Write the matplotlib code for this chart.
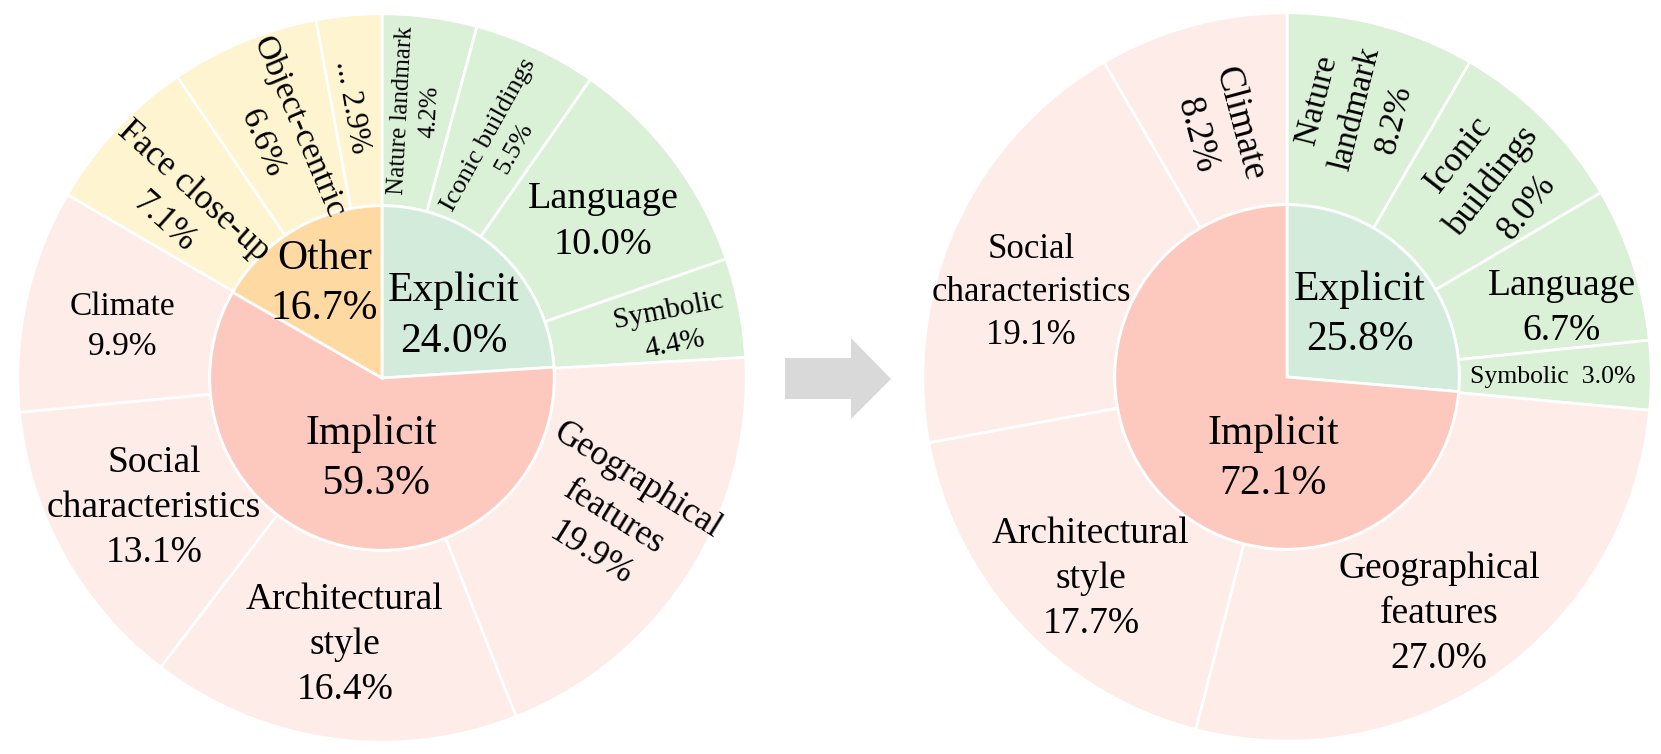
import matplotlib.pyplot as plt
import numpy as np
from matplotlib.patches import Polygon

plt.rcParams['font.family'] = ['Liberation Serif', 'DejaVu Serif']

# ---- data: left chart ----
left_inner_labels = ['Explicit', 'Implicit', 'Other']
left_inner_vals = [24.0, 59.3, 16.7]
left_outer_labels = ['Nature landmark', 'Iconic buildings', 'Language', 'Symbolic',
                     'Geographical\nfeatures', 'Architectural\nstyle',
                     'Social\ncharacteristics', 'Climate',
                     'Face close-up', 'Object-centric', '...']
left_outer_vals = [4.2, 5.5, 10.0, 4.4, 19.9, 16.4, 13.1, 9.9, 7.1, 6.6, 2.9]
left_outer_group = [0, 0, 0, 0, 1, 1, 1, 1, 2, 2, 2]

# ---- data: right chart ----
right_inner_labels = ['Explicit', 'Implicit']
right_inner_vals = [25.8, 72.1]
right_outer_labels = ['Nature\nlandmark', 'Iconic\nbuildings', 'Language', 'Symbolic',
                      'Geographical\nfeatures', 'Architectural\nstyle',
                      'Social\ncharacteristics', 'Climate']
right_outer_vals = [8.2, 8.0, 6.7, 3.0, 27.0, 17.7, 19.1, 8.2]
right_outer_group = [0, 0, 0, 0, 1, 1, 1, 1]

inner_colors = ['#d3ebdb', '#fdc9bf', '#fed9a2']
outer_colors = ['#daf0d7', '#fdece8', '#fef4cf']

R_IN = 0.473

# label styling: (radius, angle offset, rotation, fontsize, value separator)
left_outer_style = [
    (0.738, 0.4, 87, 18, '\n'), (0.728, -1.8, 61, 19, '\n'), (0.743, -1.8, 0, 27.5, '\n'),
    (0.807, -1.3, 11, 21, '\n'), (0.743, 1.6, -32, 25.5, '\n'), (0.74, 0, 0, 27, '\n'),
    (0.72, 0.6, 0, 27, '\n'), (0.727, 1.3, 0, 24, '\n'), (0.729, 2.9, -42, 25, '\n'),
    (0.722, 0.3, -67, 24.5, '\n'), (0.748, 1.1, -80, 22, ' '),
]
left_inner_style = [(0.26, -6, 0, 30, '\n'), (0.223, 5.4, 0, 30, '\n '), (0.304, 1.3, 0, 30, '\n')]

right_outer_style = [
    (0.759, 0.7, 76, 24, '\n'), (0.781, -1.5, 52, 25, '\n'), (0.777, -4.1, 0, 27, '\n'),
    (0.73, -0.3, 0, 18.5, '  '), (0.773, -2.4, 0, 27, '\n'), (0.773, 2.9, 0, 27, '\n'),
    (0.74, 6.4, 0, 25, '\n'), (0.704, 0.5, -75, 26.5, '\n'),
]
right_inner_style = [(0.262, -2, 0, 30, '\n'), (0.227, 37.75, 0, 30, '\n')]

W, H = 1661, 754
fig = plt.figure(figsize=(W / 100, H / 100), dpi=100)

# background axes in pixel coords for the arrow
bg = fig.add_axes([0, 0, 1, 1])
bg.set_xlim(0, W)
bg.set_ylim(H, 0)
bg.axis('off')
bg.add_patch(Polygon([(785, 358), (851, 358), (851, 338), (891, 379), (851, 419),
                      (851, 399), (785, 399)], closed=True, color='#d9d9d9', lw=0))


def mid_angles(vals):
    v = np.array(vals, dtype=float)
    frac = v / v.sum()
    start = 90 - 360 * np.concatenate([[0], np.cumsum(frac)[:-1]])
    return start - 180 * frac


def put_labels(ax, labels, vals, styles):
    mids = mid_angles(vals)
    for lab, val, mid, st in zip(labels, vals, mids, styles):
        r, off, rot, fs, sep = st
        th = np.deg2rad(mid + off)
        ax.text(r * np.cos(th), r * np.sin(th), f'{lab}{sep}{val:.1f}%',
                ha='center', va='center', rotation=rot, rotation_mode='anchor',
                fontsize=fs, linespacing=1.4, multialignment='center')


def sunburst(cx, cy, rad, in_labels, in_vals, out_labels, out_vals, out_group,
             in_style, out_style):
    ax = fig.add_axes([(cx - rad) / W, (H - cy - rad) / H, 2 * rad / W, 2 * rad / H])
    wp = dict(edgecolor='white', linewidth=2)
    ax.pie(out_vals, radius=1, startangle=90, counterclock=False,
           colors=[outer_colors[g] for g in out_group],
           wedgeprops=dict(width=1 - R_IN, **wp))
    ax.pie(in_vals, radius=R_IN, startangle=90, counterclock=False,
           colors=inner_colors[:len(in_vals)], wedgeprops=wp)
    put_labels(ax, out_labels, out_vals, out_style)
    put_labels(ax, in_labels, in_vals, in_style)
    ax.set_xlim(-1.005, 1.005)
    ax.set_ylim(-1.005, 1.005)
    ax.axis('off')


sunburst(382, 378, 366, left_inner_labels, left_inner_vals, left_outer_labels,
         left_outer_vals, left_outer_group, left_inner_style, left_outer_style)
sunburst(1287, 377, 366, right_inner_labels, right_inner_vals, right_outer_labels,
         right_outer_vals, right_outer_group, right_inner_style, right_outer_style)

fig.savefig('out.png', dpi=100)
